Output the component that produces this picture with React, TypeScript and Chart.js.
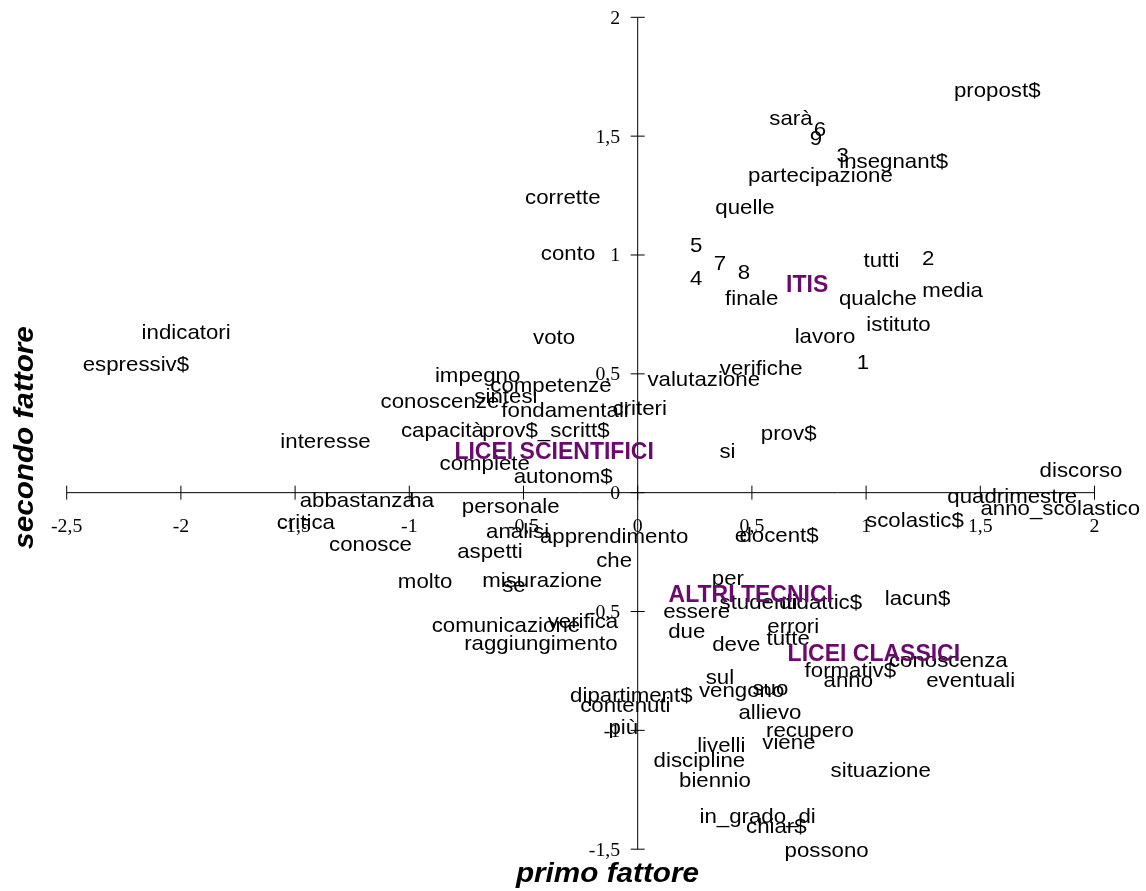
import React, { useEffect, useRef } from "react";
import { Chart, registerables } from "chart.js";

Chart.register(...registerables);

const W = 1146;
const H = 891;

// Word labels (primo fattore = x, secondo fattore = y)
const wordLabels = [
  "propost$", "sarà", "6", "9", "3", "insegnant$", "partecipazione", "corrette", "quelle", "conto",
  "5", "7", "4", "8", "tutti", "2", "finale", "qualche", "media", "istituto",
  "indicatori", "voto", "lavoro", "espressiv$", "1", "impegno", "verifiche", "competenze", "valutazione", "sintesi",
  "conoscenze", "fondamentali", "criteri", "capacità", "prov$_scritt$", "interesse", "prov$", "si", "complete", "autonom$",
  "discorso", "abbastanza", "ha", "quadrimestre", "personale", "anno_scolastico", "critica", "analisi", "apprendimento", "scolastic$",
  "e", "docent$", "conosce", "aspetti", "che", "molto", "misurazione", "se", "per", "studenti",
  "didattic$", "lacun$", "essere", "comunicazione", "verifica", "errori", "due", "tutte", "deve", "raggiungimento",
  "conoscenza", "formativ$", "eventuali", "anno", "sul", "vengono", "suo", "dipartiment$", "contenuti", "allievo",
  "più", "recupero", "viene", "livelli", "discipline", "situazione", "biennio", "in_grado_di", "chiar$", "possono",
];
const wordX = [
  1.574, 0.671, 0.798, 0.780, 0.897, 1.121, 0.800, -0.328, 0.470, -0.305,
  0.256, 0.360, 0.256, 0.465, 1.067, 1.272, 0.499, 1.052, 1.379, 1.142,
  -1.977, -0.366, 0.820, -2.197, 0.986, -0.701, 0.541, -0.380, 0.289, -0.577,
  -0.866, -0.318, 0.009, -0.855, -0.402, -1.367, 0.661, 0.393, -0.670, -0.326,
  1.941, -1.228, -0.946, 1.640, -0.556, 1.850, -1.453, -0.526, -0.103, 1.214,
  0.452, 0.619, -1.170, -0.647, -0.103, -0.931, -0.418, -0.542, 0.395, 0.529,
  0.801, 1.225, 0.258, -0.577, -0.240, 0.681, 0.215, 0.659, 0.432, -0.424,
  1.360, 0.931, 1.458, 0.922, 0.360, 0.455, 0.581, -0.028, -0.054, 0.579,
  -0.063, 0.754, 0.662, 0.366, 0.270, 1.064, 0.338, 0.525, 0.607, 0.827,
];
const wordY = [
  1.700, 1.581, 1.534, 1.496, 1.426, 1.398, 1.342, 1.247, 1.206, 1.012,
  1.048, 0.971, 0.907, 0.932, 0.984, 0.992, 0.823, 0.823, 0.858, 0.715,
  0.680, 0.659, 0.662, 0.546, 0.553, 0.501, 0.529, 0.459, 0.484, 0.410,
  0.389, 0.353, 0.361, 0.269, 0.269, 0.220, 0.255, 0.178, 0.129, 0.073,
  0.101, -0.025, -0.025, -0.011, -0.053, -0.060, -0.120, -0.158, -0.179, -0.109,
  -0.172, -0.172, -0.212, -0.240, -0.278, -0.369, -0.364, -0.383, -0.356, -0.457,
  -0.457, -0.439, -0.495, -0.551, -0.537, -0.558, -0.579, -0.607, -0.631, -0.628,
  -0.698, -0.743, -0.785, -0.785, -0.771, -0.825, -0.817, -0.846, -0.888, -0.920,
  -0.981, -0.993, -1.046, -1.056, -1.119, -1.161, -1.203, -1.355, -1.399, -1.500,
];

// School-type groups
const groupLabels = ["ITIS", "LICEI SCIENTIFICI", "ALTRI TECNICI", "LICEI CLASSICI"];
const groupX = [0.742, -0.366, 0.495, 1.034];
const groupY = [0.881, 0.175, -0.424, -0.672];

// Axes
const xTickValues = [-2.5, -2, -1.5, -1, -0.5, 0, 0.5, 1, 1.5, 2];
const xTickLabels = ["-2,5", "-2", "-1,5", "-1", "-0,5", "0", "0,5", "1", "1,5", "2"];
const yTickValues = [-1.5, -1, -0.5, 0, 0.5, 1, 1.5, 2];
const yTickLabels = ["-1,5", "-1", "-0,5", "0", "0,5", "1", "1,5", "2"];
const xTitle = "primo fattore";
const yTitle = "secondo fattore";

const WORD_FONT = "21px 'Liberation Sans', Arial, sans-serif";
const GROUP_FONT = "bold 23px 'Liberation Sans', Arial, sans-serif";
const TICK_FONT = "18px 'Liberation Serif', 'Times New Roman', serif";
const TITLE_FONT = "italic bold 27px 'Liberation Sans', Arial, sans-serif";
const PURPLE = "#6a0a6e";

function drawStretched(
  ctx: CanvasRenderingContext2D,
  text: string,
  x: number,
  y: number,
  sx: number,
  align: CanvasTextAlign,
  rot = 0
) {
  ctx.save();
  ctx.translate(x, y);
  if (rot) ctx.rotate(rot);
  ctx.scale(sx, 1);
  ctx.textAlign = align;
  ctx.textBaseline = "alphabetic";
  ctx.fillText(text, 0, 0);
  ctx.restore();
}

export default function App() {
  const ref = useRef<HTMLCanvasElement>(null);

  useEffect(() => {
    document.body.style.margin = "0";
    const canvas = ref.current;
    if (!canvas) return;

    const plotPlugin = {
      id: "factorPlane",
      afterDatasetsDraw(chart: any) {
        const ctx: CanvasRenderingContext2D = chart.ctx;
        const xs = chart.scales.x;
        const ys = chart.scales.y;
        const x0 = xs.getPixelForValue(0);
        const y0 = ys.getPixelForValue(0);
        ctx.save();

        // axes lines
        ctx.strokeStyle = "#000";
        ctx.lineWidth = 1;
        ctx.beginPath();
        ctx.moveTo(xs.getPixelForValue(-2.5), y0);
        ctx.lineTo(xs.getPixelForValue(2), y0);
        ctx.moveTo(x0, ys.getPixelForValue(2));
        ctx.lineTo(x0, ys.getPixelForValue(-1.5));
        // ticks
        xTickValues.forEach((v) => {
          const px = xs.getPixelForValue(v);
          ctx.moveTo(px, y0 - 7);
          ctx.lineTo(px, y0 + 7);
        });
        yTickValues.forEach((v) => {
          const py = ys.getPixelForValue(v);
          ctx.moveTo(x0 - 7, py);
          ctx.lineTo(x0 + 7, py);
        });
        ctx.stroke();

        // tick labels
        ctx.fillStyle = "#000";
        ctx.font = TICK_FONT;
        xTickValues.forEach((v, i) => {
          drawStretched(ctx, xTickLabels[i], xs.getPixelForValue(v), y0 + 39.5, 1.1, "center");
        });
        yTickValues.forEach((v, i) => {
          drawStretched(ctx, yTickLabels[i], x0 - 17.5, ys.getPixelForValue(v) + 6.5, 1.1, "right");
        });

        // word labels
        ctx.font = WORD_FONT;
        ctx.fillStyle = "#000";
        const m0 = chart.getDatasetMeta(0);
        m0.data.forEach((pt: any, i: number) => {
          drawStretched(ctx, wordLabels[i], pt.x, pt.y + 8, 1.06, "center");
        });

        // group labels
        ctx.font = GROUP_FONT;
        ctx.fillStyle = PURPLE;
        const m1 = chart.getDatasetMeta(1);
        m1.data.forEach((pt: any, i: number) => {
          drawStretched(ctx, groupLabels[i], pt.x, pt.y + 8.3, 1.0, "center");
        });

        // axis titles
        ctx.font = TITLE_FONT;
        ctx.fillStyle = "#000";
        drawStretched(ctx, xTitle, 607.5, 882, 1.1, "center");
        drawStretched(ctx, yTitle, 33, 437.5, 1.1, "center", -Math.PI / 2);

        ctx.restore();
      },
    };

    const chart = new Chart(canvas, {
      type: "scatter",
      data: {
        datasets: [
          {
            label: "parole",
            data: wordLabels.map((_, i) => ({ x: wordX[i], y: wordY[i] })),
            pointRadius: 0,
            pointHoverRadius: 0,
          },
          {
            label: "gruppi",
            data: groupLabels.map((_, i) => ({ x: groupX[i], y: groupY[i] })),
            pointRadius: 0,
            pointHoverRadius: 0,
          },
        ],
      },
      options: {
        responsive: false,
        animation: false,
        events: [],
        layout: {
          padding: { left: 66.7, right: W - 1094.5, top: 17.3, bottom: H - 849.2 },
        },
        scales: {
          x: { type: "linear", min: -2.5, max: 2, display: false },
          y: { type: "linear", min: -1.5, max: 2, display: false },
        },
        plugins: {
          legend: { display: false },
          tooltip: { enabled: false },
        },
      },
      plugins: [plotPlugin],
    });

    return () => chart.destroy();
  }, []);

  return <canvas ref={ref} width={W} height={H} style={{ display: "block" }} />;
}
